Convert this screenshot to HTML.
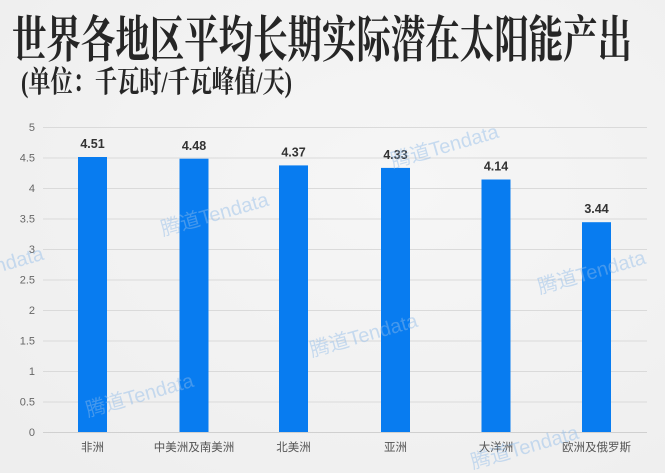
<!DOCTYPE html>
<html><head><meta charset="utf-8"><style>
html,body{margin:0;padding:0;}
body{width:665px;height:473px;overflow:hidden;background:#f2f2f2;}
svg{display:block;}
</style></head><body>
<svg width="665" height="473" viewBox="0 0 665 473" xmlns="http://www.w3.org/2000/svg">
<defs>
<radialGradient id="bg" cx="0.6" cy="0.4" r="0.8">
<stop offset="0" stop-color="#f6f6f6"/><stop offset="1" stop-color="#eeeeee"/>
</radialGradient>
</defs>
<rect x="0" y="0" width="665" height="473" fill="url(#bg)"/>
<text x="12" y="57" font-family="'Liberation Serif','Noto Serif CJK SC',serif" font-weight="700" font-size="50" fill="#262626" textLength="620" lengthAdjust="spacingAndGlyphs">世界各地区平均长期实际潜在太阳能产出</text>
<text x="21" y="92" font-family="'Liberation Serif','Noto Serif CJK SC',serif" font-weight="700" font-size="30" fill="#262626" textLength="271" lengthAdjust="spacingAndGlyphs">(单位：千瓦时/千瓦峰值/天)</text>
<g stroke="#dadada" stroke-width="1">
<line x1="43" x2="647" y1="127.5" y2="127.5"/>
<line x1="43" x2="647" y1="158" y2="158"/>
<line x1="43" x2="647" y1="188.5" y2="188.5"/>
<line x1="43" x2="647" y1="219" y2="219"/>
<line x1="43" x2="647" y1="249.5" y2="249.5"/>
<line x1="43" x2="647" y1="280" y2="280"/>
<line x1="43" x2="647" y1="310.5" y2="310.5"/>
<line x1="43" x2="647" y1="341" y2="341"/>
<line x1="43" x2="647" y1="371.5" y2="371.5"/>
<line x1="43" x2="647" y1="402" y2="402"/>
<line x1="43" x2="647" y1="432.5" y2="432.5" stroke="#d0d0d0"/>
</g>
<g font-family="'Liberation Sans','Noto Sans CJK SC',sans-serif" font-size="11" fill="#666" text-anchor="end">
<text x="35" y="131">5</text>
<text x="35" y="161.5">4.5</text>
<text x="35" y="192">4</text>
<text x="35" y="222.5">3.5</text>
<text x="35" y="253">3</text>
<text x="35" y="283.5">2.5</text>
<text x="35" y="314">2</text>
<text x="35" y="344.5">1.5</text>
<text x="35" y="375">1</text>
<text x="35" y="405.5">0.5</text>
<text x="35" y="436">0</text>
</g>
<g fill="#087cf0">
<rect x="78" y="157" width="29" height="275"/>
<rect x="179.5" y="158.7" width="29" height="273.3"/>
<rect x="279" y="165.4" width="29" height="266.6"/>
<rect x="381" y="167.9" width="29" height="264.1"/>
<rect x="481.5" y="179.5" width="29" height="252.5"/>
<rect x="582" y="222.2" width="29" height="209.8"/>
</g>
<g font-family="'Liberation Sans','Noto Sans CJK SC',sans-serif" font-size="12.5" font-weight="700" fill="#333" text-anchor="middle">
<text x="92.5" y="148">4.51</text>
<text x="194" y="150">4.48</text>
<text x="293.5" y="156.5">4.37</text>
<text x="395.5" y="159">4.33</text>
<text x="496" y="170.5">4.14</text>
<text x="596.5" y="213">3.44</text>
</g>
<g font-family="'Liberation Sans','Noto Sans CJK SC',sans-serif" font-size="11.5" fill="#555" text-anchor="middle">
<text x="92.5" y="451">非洲</text>
<text x="194" y="451">中美洲及南美洲</text>
<text x="293.5" y="451">北美洲</text>
<text x="395.5" y="451">亚洲</text>
<text x="496" y="451">大洋洲</text>
<text x="596.5" y="451">欧洲及俄罗斯</text>
</g>
<g font-family="'Liberation Sans','Noto Sans CJK SC',sans-serif" font-size="20" fill="#8fbbe8" fill-opacity="0.45">
<text transform="translate(393,168) rotate(-16)">腾道Tendata</text>
<text transform="translate(163,236) rotate(-16)">腾道Tendata</text>
<text transform="translate(-62,290) rotate(-16)">腾道Tendata</text>
<text transform="translate(312,357) rotate(-16)">腾道Tendata</text>
<text transform="translate(88,417) rotate(-16)">腾道Tendata</text>
<text transform="translate(540,294) rotate(-16)">腾道Tendata</text>
<text transform="translate(473,469) rotate(-16)">腾道Tendata</text>
</g>
</svg>
</body></html>
